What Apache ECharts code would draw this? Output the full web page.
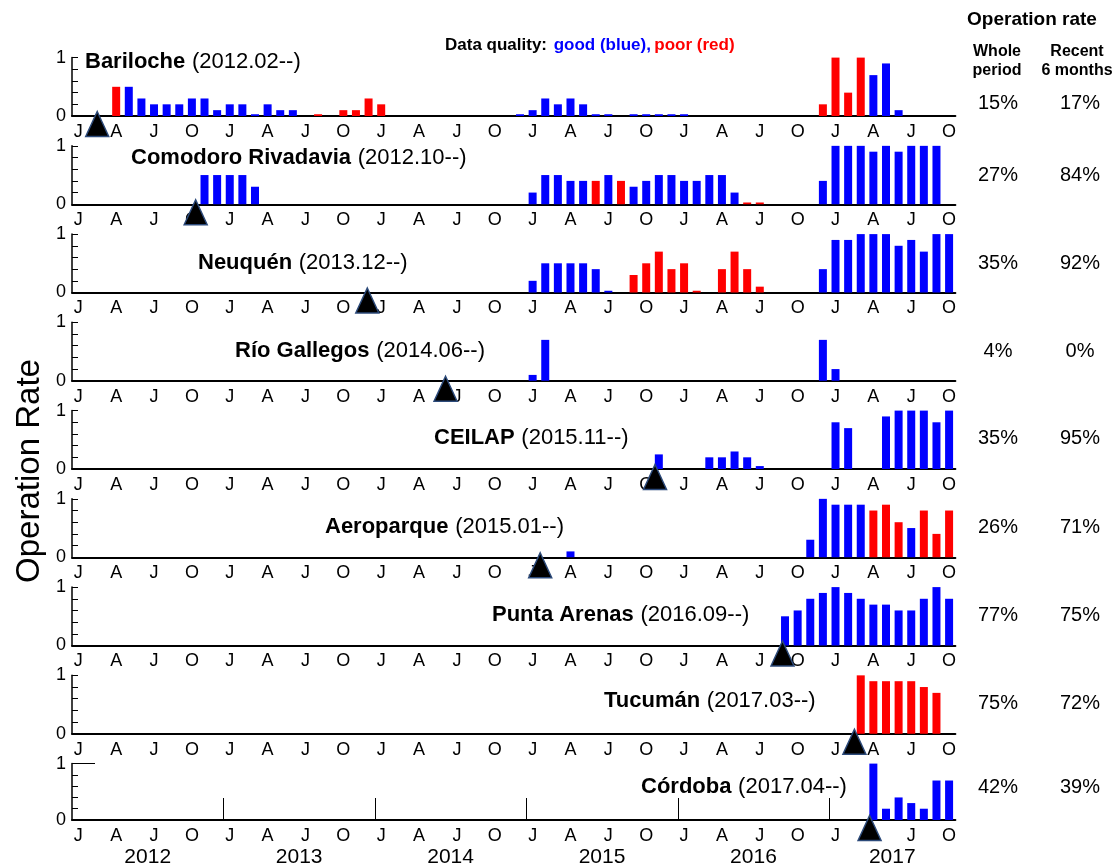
<!DOCTYPE html>
<html>
<head>
<meta charset="utf-8">
<script src="https://cdn.jsdelivr.net/npm/echarts@6/dist/echarts.min.js"></script>
<style>
html,body{margin:0;padding:0;background:#fff}
#main{width:1115px;height:868px}
</style>
</head>
<body>
<div id="main"></div>
<script>
// months Jan 2012 .. Oct 2017
const months = [];
for (let y = 2012; y <= 2017; y++) {
  for (let m = 1; m <= 12; m++) {
    if (y < 2017 || m <= 10) months.push(y + '.' + m);
  }
}
const monthLetters = ['J','F','M','A','M','J','J','A','S','O','N','D'];
const yearLabels = ['2012','2013','2014','2015','2016','2017'];
const yearLabelPos = [6, 18, 30, 42, 54, 65];
const yearTickPos = [12, 24, 36, 48, 60];

const stationNames = ['Bariloche','Comodoro Rivadavia','Neuquén','Río Gallegos','CEILAP','Aeroparque','Punta Arenas','Tucumán','Córdoba'];
const stationStart = ['(2012.02--)','(2012.10--)','(2013.12--)','(2014.06--)','(2015.11--)','(2015.01--)','(2016.09--)','(2017.03--)','(2017.04--)'];
// start marker, in months from Jan 2012
const startPos = [2.0, 9.8, 23.4, 29.6, 46.2, 37.1, 56.3, 62.0, 63.2];
const wholeRate = ['15%','27%','35%','4%','35%','26%','77%','75%','42%'];
const recentRate = ['17%','84%','92%','0%','95%','71%','75%','72%','39%'];

// [month index, rate]
const barilocheGood = [[4,.5],[5,.3],[6,.2],[7,.2],[8,.2],[9,.3],[10,.3],[11,.1],[12,.2],[13,.2],[14,.03],[15,.2],[16,.1],[17,.1],
  [35,.03],[36,.1],[37,.3],[38,.2],[39,.3],[40,.2],[41,.03],[42,.03],[44,.03],[45,.03],[46,.03],[47,.03],[48,.03],[63,.7],[64,.9],[65,.1]];
const barilochePoor = [[3,.5],[19,.03],[21,.1],[22,.1],[23,.3],[24,.2],[59,.2],[60,1],[61,.4],[62,1]];
const comodoroGood = [[10,.5],[11,.5],[12,.5],[13,.5],[14,.3],[36,.2],[37,.5],[38,.5],[39,.4],[40,.4],[42,.5],[44,.3],[45,.4],[46,.5],
  [47,.5],[48,.4],[49,.4],[50,.5],[51,.5],[52,.2],[59,.4],[60,1],[61,1],[62,1],[63,.9],[64,1],[65,.9],[66,1],[67,1],[68,1]];
const comodoroPoor = [[41,.4],[43,.4],[53,.03],[54,.03]];
const neuquenGood = [[36,.2],[37,.5],[38,.5],[39,.5],[40,.5],[41,.4],[42,.03],[59,.4],[60,.9],[61,.9],[62,1],[63,1],[64,1],[65,.8],
  [66,.9],[67,.7],[68,1],[69,1]];
const neuquenPoor = [[44,.3],[45,.5],[46,.7],[47,.4],[48,.5],[49,.03],[51,.4],[52,.7],[53,.4],[54,.1]];
const rioGallegosGood = [[36,.1],[37,.7],[59,.7],[60,.2]];
const rioGallegosPoor = [];
const ceilapGood = [[46,.25],[50,.2],[51,.2],[52,.3],[53,.2],[54,.05],[60,.8],[61,.7],[64,.9],[65,1],[66,1],[67,1],[68,.8],[69,1]];
const ceilapPoor = [];
const aeroparqueGood = [[39,.1],[58,.3],[59,1],[60,.9],[61,.9],[62,.9],[66,.5]];
const aeroparquePoor = [[63,.8],[64,.9],[65,.6],[67,.8],[68,.4],[69,.8]];
const puntaArenasGood = [[56,.5],[57,.6],[58,.8],[59,.9],[60,1],[61,.9],[62,.8],[63,.7],[64,.7],[65,.6],[66,.6],[67,.8],[68,1],[69,.8]];
const puntaArenasPoor = [];
const tucumanGood = [];
const tucumanPoor = [[62,1],[63,.9],[64,.9],[65,.9],[66,.9],[67,.8],[68,.7]];
const cordobaGood = [[63,1],[64,.2],[65,.4],[66,.3],[67,.2],[68,.7],[69,.7]];
const cordobaPoor = [];

const goodData = [barilocheGood, comodoroGood, neuquenGood, rioGallegosGood, ceilapGood, aeroparqueGood, puntaArenasGood, tucumanGood, cordobaGood];
const poorData = [barilochePoor, comodoroPoor, neuquenPoor, rioGallegosPoor, ceilapPoor, aeroparquePoor, puntaArenasPoor, tucumanPoor, cordobaPoor];

// label positions (left x, middle y)
const labelPos = [[85,62],[131,158],[198,263],[235,351],[434,438],[325,527],[492,615],[604,701],[641,787]];
const rateRowY = [103,175,263,351,438,527,615,703,787];

const FONT = 'Liberation Sans, Arial, sans-serif';
const LEFT = 72, WIDTH = 883.4, H = 58.4, BOTTOM0 = 116, STEP = 88.25;

let grid = [], xAxis = [], yAxis = [], series = [], graphic = [];

for (let i = 0; i < 9; i++) {
  let bottom = BOTTOM0 + i * STEP;
  let last = i === 8;
  grid.push({ left: LEFT, top: bottom - H, width: WIDTH, height: H });
  xAxis.push({
    gridIndex: i, type: 'category', data: months, boundaryGap: true, position: 'bottom',
    axisLine: { lineStyle: { color: '#000', width: 2 } },
    axisTick: { inside: true, length: 6, interval: 0, lineStyle: { color: '#000' } },
    axisLabel: { interval: 2, formatter: (v, idx) => monthLetters[idx % 12], fontSize: 18, color: '#000', margin: 7, fontFamily: FONT },
    splitLine: { show: false }
  });
  xAxis.push({
    gridIndex: i, type: 'value', min: 0, max: 70, position: 'bottom', show: last,
    axisLine: { show: false }, splitLine: { show: false },
    axisTick: { show: true, customValues: yearTickPos, inside: true, length: 22, lineStyle: { color: '#000' } },
    axisLabel: { customValues: yearLabelPos, formatter: v => yearLabels[yearLabelPos.indexOf(v)], fontSize: 21, color: '#000', margin: 27, fontFamily: FONT }
  });
  yAxis.push({
    gridIndex: i, type: 'value', min: 0, max: 1, interval: 0.2, position: 'left',
    axisLine: { show: true, lineStyle: { color: '#000', width: 1.5 } },
    axisTick: { show: true, inside: true, length: 6, lineStyle: { color: '#000' } },
    axisLabel: { formatter: v => (v === 0 || v === 1) ? String(v) : '', fontSize: 18, color: '#000', margin: 6, fontFamily: FONT },
    splitLine: { show: false }
  });
  series.push({
    type: 'bar', xAxisIndex: 2 * i, yAxisIndex: i, data: goodData[i], barWidth: 8, barGap: '-100%',
    itemStyle: { color: '#0000ff' }, silent: true
  });
  series.push({
    type: 'bar', xAxisIndex: 2 * i, yAxisIndex: i, data: poorData[i], barWidth: 8, barGap: '-100%',
    itemStyle: { color: '#ff0000' }, silent: true
  });
  series.push({
    type: 'scatter', xAxisIndex: 2 * i + 1, yAxisIndex: i, data: [[startPos[i], 0]],
    symbol: 'triangle', symbolSize: [23, 25], symbolOffset: [0, 8], clip: false, z: 10, silent: true,
    itemStyle: { color: '#000', opacity: 1, borderColor: '#2c4a7a', borderWidth: 1.5 }
  });
  graphic.push({
    type: 'text', x: labelPos[i][0], y: labelPos[i][1],
    style: {
      text: '{b|' + stationNames[i] + '}  {n|' + stationStart[i] + '}',
      verticalAlign: 'middle',
      rich: {
        b: { fontWeight: 'bold', fontSize: 22, fontFamily: FONT, fill: '#000' },
        n: { fontSize: 22, fontFamily: FONT, fill: '#000' }
      }
    }
  });
  graphic.push({ type: 'text', x: 998, y: rateRowY[i], style: { text: wholeRate[i], fontSize: 20, fontFamily: FONT, fill: '#000', align: 'center', verticalAlign: 'middle' } });
  graphic.push({ type: 'text', x: 1080, y: rateRowY[i], style: { text: recentRate[i], fontSize: 20, fontFamily: FONT, fill: '#000', align: 'center', verticalAlign: 'middle' } });
}

// long tick at 1 on the last panel
yAxis.push({
  gridIndex: 8, type: 'value', min: 0, max: 1, position: 'left',
  axisLine: { show: false }, axisLabel: { show: false }, splitLine: { show: false },
  axisTick: { show: true, inside: true, length: 23, customValues: [1], lineStyle: { color: '#000' } }
});

graphic.push(
  { type: 'text', x: 1032, y: 20, style: { text: 'Operation rate', fontSize: 19, fontWeight: 'bold', fontFamily: FONT, fill: '#000', align: 'center', verticalAlign: 'middle' } },
  { type: 'text', x: 997, y: 61, style: { text: 'Whole\nperiod', fontSize: 16, lineHeight: 19, fontWeight: 'bold', fontFamily: FONT, fill: '#000', align: 'center', verticalAlign: 'middle' } },
  { type: 'text', x: 1077, y: 61, style: { text: 'Recent\n6 months', fontSize: 16, lineHeight: 19, fontWeight: 'bold', fontFamily: FONT, fill: '#000', align: 'center', verticalAlign: 'middle' } },
  {
    type: 'text', x: 445, y: 45,
    style: {
      text: '{k|Data quality:}  {g|good (blue),} {r|poor (red)}', verticalAlign: 'middle',
      rich: {
        k: { fontSize: 17, fontWeight: 'bold', fontFamily: FONT, fill: '#000' },
        g: { fontSize: 17, fontWeight: 'bold', fontFamily: FONT, fill: '#0000ff' },
        r: { fontSize: 17, fontWeight: 'bold', fontFamily: FONT, fill: '#ff0000' }
      }
    }
  },
  { type: 'text', x: 30, y: 471, rotation: Math.PI / 2, style: { text: 'Operation Rate', fontSize: 33, fontFamily: FONT, fill: '#000', align: 'center', verticalAlign: 'middle' } }
);

let myChart = echarts.init(document.getElementById('main'));
myChart.setOption({ animation: false, grid: grid, xAxis: xAxis, yAxis: yAxis, series: series, graphic: graphic });
window.addEventListener('resize', function () { myChart.resize(); }, false);
</script>
</body>
</html>
